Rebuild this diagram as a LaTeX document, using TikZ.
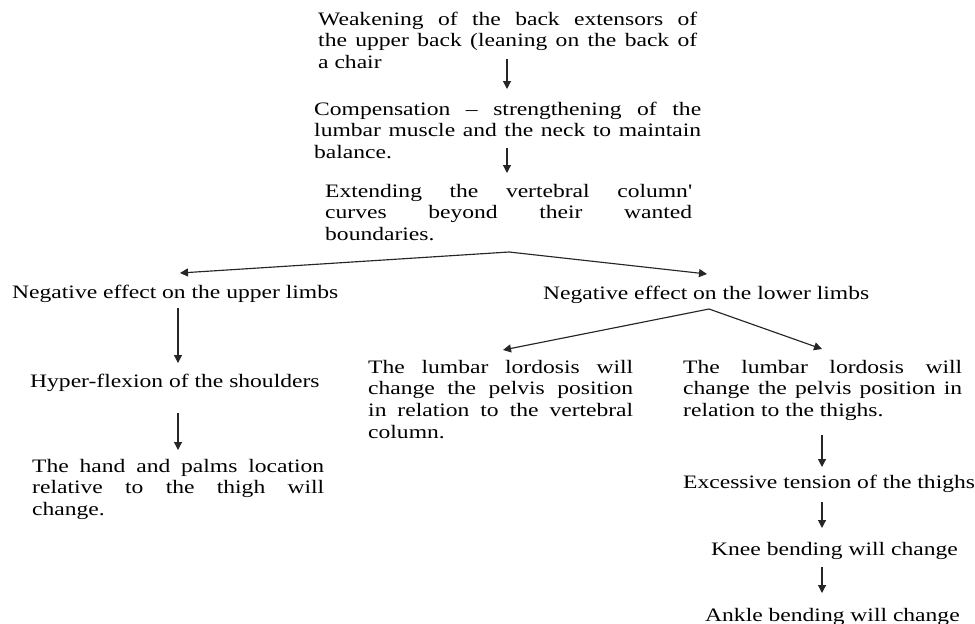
\documentclass[tikz,border=0pt]{standalone}
\usepackage{fontspec}
\setmainfont{Liberation Serif}[FakeStretch=1.24, Ligatures=TeXOff]
\usetikzlibrary{arrows.meta}
\tolerance=10000
\hyphenpenalty=10000
\begin{document}
\begin{tikzpicture}[x=1pt,y=-1pt,
  txt/.style={anchor=base west, inner sep=0pt,
    font=\fontsize{19}{21.8}\selectfont},
  para/.style={txt, align=justify, text width=#1},
  arr/.style={line width=1.15pt, draw=black!85, -{Triangle[width=8pt,length=8pt]}},
  fork/.style={arr, line join=miter}]
\useasboundingbox (0,0) rectangle (975,624);

% cause chain down the centre
\node[para=379pt] (weak) at (318,25)
  {Weakening of the back extensors of\linebreak the upper back (leaning on the back of\linebreak a chair};
\node[para=387pt] (comp) at (314,115)
  {Compensation – strengthening of the\linebreak lumbar muscle and the neck to maintain\linebreak balance.};
\node[para=367pt] (ext) at (325,197)
  {Extending the vertebral column'\linebreak curves beyond their wanted\linebreak boundaries.};

% upper limbs branch
\node[txt] (upper) at (12,298) {Negative effect on the upper limbs};
\node[txt] (hyper) at (30,387) {Hyper-flexion of the shoulders};
\node[para=292pt] (hand) at (32,472)
  {The hand and palms location\linebreak relative to the thigh will\linebreak change.};

% lower limbs branch
\node[txt] (lower) at (543,299) {Negative effect on the lower limbs};
\node[para=265pt] (lordv) at (368,373)
  {The lumbar lordosis will\linebreak change the pelvis position\linebreak in relation to the vertebral\linebreak column.};
\node[para=279pt] (lordt) at (683,373)
  {The lumbar lordosis will\linebreak change the pelvis position in\linebreak relation to the thighs.};
\node[txt] (tens) at (683,488) {Excessive tension of the thighs};
\node[txt] (knee) at (711,555) {Knee bending will change};
\node[txt] (ankle) at (705,621) {Ankle bending will change};

% connector end points
\coordinate (weak-o) at (507,59);   \coordinate (comp-i) at (507,89);
\coordinate (comp-o) at (507,148);  \coordinate (ext-i) at (507,173);
\coordinate (ext-o) at (509,252);
\coordinate (upper-i) at (180,273); \coordinate (lower-i) at (707,274);
\coordinate (upper-o) at (178,308); \coordinate (hyper-i) at (178,363);
\coordinate (hyper-o) at (178,413); \coordinate (hand-i) at (178,450);
\coordinate (lower-o) at (709,309);
\coordinate (lordv-i) at (503,350); \coordinate (lordt-i) at (822,349);
\coordinate (lordt-o) at (822,435); \coordinate (tens-i) at (822,467);
\coordinate (tens-o) at (822,502);  \coordinate (knee-i) at (822,528);
\coordinate (knee-o) at (822,567);  \coordinate (ankle-i) at (822,593);

\draw[arr] (weak-o) -- (comp-i);
\draw[arr] (comp-o) -- (ext-i);
\draw[fork] (ext-o) -- (upper-i);
\draw[fork] (ext-o) -- (lower-i);
\draw[arr] (upper-o) -- (hyper-i);
\draw[arr] (hyper-o) -- (hand-i);
\draw[fork] (lower-o) -- (lordv-i);
\draw[fork] (lower-o) -- (lordt-i);
\draw[arr] (lordt-o) -- (tens-i);
\draw[arr] (tens-o) -- (knee-i);
\draw[arr] (knee-o) -- (ankle-i);
\end{tikzpicture}
\end{document}
